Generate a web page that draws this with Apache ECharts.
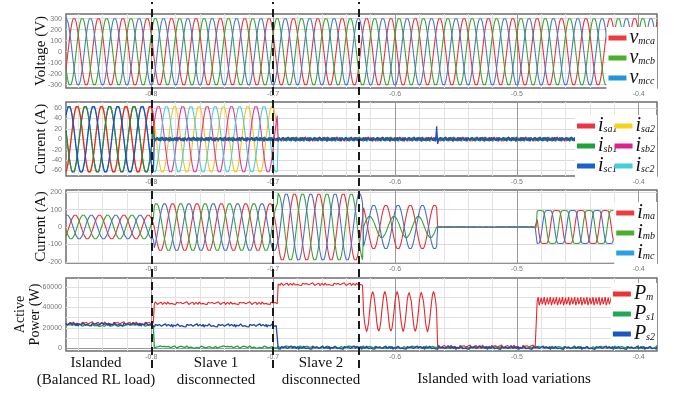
<!DOCTYPE html>
<html>
<head>
<meta charset="utf-8">
<script src="https://cdn.jsdelivr.net/npm/echarts@6/dist/echarts.min.js"></script>
<style>
html, body { margin: 0; padding: 0; background: #fff; }
#chart { width: 674px; height: 394px; }
</style>
</head>
<body>
<div id="chart"></div>
<script>
var chart = echarts.init(document.getElementById('chart'));

// time window (s), 24 samples per 50 Hz cycle
var tStart = -0.870, tEnd = -0.385;
var dt = 0.02 / 24;
// switching instants
var events = [-0.798, -0.6964, -0.626, -0.565, -0.4836, -0.420];

var majorTicks = [-0.8, -0.7, -0.6, -0.5, -0.4];
var minorTicks = [-0.86, -0.84, -0.82, -0.80, -0.78, -0.76, -0.74, -0.72, -0.70, -0.68, -0.66, -0.64,
                  -0.62, -0.60, -0.58, -0.56, -0.54, -0.52, -0.50, -0.48, -0.46, -0.44, -0.42, -0.40];

// one cycle shapes (from peak)
var sineShape = [1, 0.966, 0.866, 0.707, 0.5, 0.259, 0, -0.259, -0.5, -0.707, -0.866, -0.966,
                 -1, -0.966, -0.866, -0.707, -0.5, -0.259, 0, 0.259, 0.5, 0.707, 0.866, 0.966];
var trapShape = [1, 1, 1, 0.97, 0.8, 0.45, 0, -0.45, -0.8, -0.97, -1, -1,
                 -1, -1, -1, -0.97, -0.8, -0.45, 0, 0.45, 0.8, 0.97, 1, 1];
var jitter = [0.3, -0.6, 0.9, -0.2, -0.8, 0.5, 0.1, -0.4, 0.7, -0.9, 0.2, 0.6, -0.3, -0.7, 0.8, 0.0,
              -0.5, 0.4, -0.1, 0.9, -0.6, 0.3, -0.8, 0.6, -0.2, 0.1, -0.9, 0.5, 0.7, -0.4, 0.2];

// voltage
var vAmp = 310, vRef = -0.8634;
// slave currents: amplitude per segment
var isAmp1 = [65, 0, 0, 0, 0, 0, 0];
var isAmp2 = [65, 65, 0, 0, 0, 0, 0];
var isRef = -0.8611, isNoise = 4.5;
var spikeT = -0.5655, spikeVals = [25, -9];
// master currents per segment
var imAmpA = [70, 138, 195, 128, 0, 95];
var imAmpB = [70, 138, 195, 62, 0, 95];
var imAmpC = [70, 138, 195, 128, 0, 95];
var imShiftB = [-8, -8, -8, -8, 0, -8];
var imShiftC = [8, 8, 8, 12, 0, 8];
var imRef = [-0.8621, -0.8621, -0.8621, -0.6074, 0, -0.4672];
var imNoise = 2;
// power levels per segment (W)
var pmLevel = [24500, 44000, 62500, 0, 1800, 0];
var ps1Level = [22500, 1200, 1200, 1000, 900, 900, 900];
var ps2Level = [23300, 22300, 600, 600, 500, 500, 500];
var pmOsc = [55000, 52500, 46000, 36000, 26000, 19500, 16500, 19500, 26000, 36000, 46000, 52500];
var pmOscRef = -0.6184;
var pmRipple = [49500, 43000, 46000, 50000, 42000, 45500];

function segOf(t) { var s = 0; while (s < events.length && t >= events[s]) s++; return s; }
function idx(t, ref, shift, n) { var k = Math.round((t - ref) / dt) + shift; return ((k % n) + n) % n; }
function jit(i, off) { return jitter[(i + off) % jitter.length]; }

var vA = [], vB = [], vC = [];
var sa1 = [], sb1 = [], sc1 = [], sa2 = [], sb2 = [], sc2 = [];
var ma = [], mb = [], mc = [];
var pm = [], ps1 = [], ps2 = [];

for (var i = 0; tStart + i * dt <= tEnd + 1e-9; i++) {
    var t = +(tStart + i * dt).toFixed(6);
    var s = segOf(t);
    vA.push([t, vAmp * sineShape[idx(t, vRef, 0, 24)]]);
    vB.push([t, vAmp * sineShape[idx(t, vRef, -8, 24)]]);
    vC.push([t, vAmp * sineShape[idx(t, vRef, 8, 24)]]);

    // slave currents
    var a1 = isAmp1[s], a2 = isAmp2[s];
    sa1.push([t, a1 ? a1 * sineShape[idx(t, isRef, 0, 24)] : isNoise * jit(i, 0)]);
    sb1.push([t, a1 ? a1 * sineShape[idx(t, isRef, -8, 24)] : isNoise * jit(i, 9)]);
    var c1 = a1 ? a1 * sineShape[idx(t, isRef, 8, 24)] : isNoise * jit(i, 17);
    if (Math.abs(t - spikeT) < dt / 2) c1 = spikeVals[0];
    if (Math.abs(t - spikeT - dt) < dt / 2) c1 = spikeVals[1];
    sc1.push([t, c1]);
    sa2.push([t, a2 ? a2 * sineShape[idx(t, isRef, 0, 24)] : isNoise * jit(i, 5)]);
    sb2.push([t, a2 ? a2 * sineShape[idx(t, isRef, -8, 24)] : isNoise * jit(i, 12)]);
    sc2.push([t, a2 ? a2 * sineShape[idx(t, isRef, 8, 24)] : isNoise * jit(i, 22)]);

    // master currents
    if (s <= 3) {
        ma.push([t, imAmpA[s] * sineShape[idx(t, imRef[s], 0, 24)]]);
        mb.push([t, imAmpB[s] * sineShape[idx(t, imRef[s], imShiftB[s], 24)]]);
        mc.push([t, imAmpC[s] * sineShape[idx(t, imRef[s], imShiftC[s], 24)]]);
    } else if (s === 4) {
        ma.push([t, imNoise * jit(i, 3)]);
        mb.push([t, imNoise * jit(i, 14)]);
        mc.push([t, imNoise * jit(i, 25)]);
    } else if (s === 5) {
        ma.push([t, imAmpA[s] * trapShape[idx(t, imRef[s], 0, 24)]]);
        mb.push([t, imAmpB[s] * trapShape[idx(t, imRef[s], imShiftB[s], 24)]]);
        mc.push([t, imAmpC[s] * trapShape[idx(t, imRef[s], imShiftC[s], 24)]]);
    }

    // power
    var p;
    if (s === 3) p = pmOsc[idx(t, pmOscRef, 0, 12)] + 700 * jit(i, 7);
    else if (s === 5) p = pmRipple[i % pmRipple.length];
    else if (s < 6) p = pmLevel[s] + 1500 * jit(i, 7);
    if (s < 6) pm.push([t, p]);
    ps1.push([t, ps1Level[s] + 1200 * jit(i, 19)]);
    ps2.push([t, ps2Level[s] + 1800 * jit(i, 28)]);
}

function line(name, gi, color, legendColor, data, width) {
    return {
        name: name, type: 'line', xAxisIndex: gi * 2, yAxisIndex: gi, data: data,
        showSymbol: false, symbol: 'none', silent: true, z: 2,
        lineStyle: { color: color, width: width || 1.1 },
        itemStyle: { color: legendColor }
    };
}

var grids = [
    { left: 66, top: 14, width: 591, height: 74 },
    { left: 66, top: 102, width: 591, height: 74 },
    { left: 66, top: 190, width: 591, height: 73 },
    { left: 66, top: 278, width: 591, height: 73 },
    { left: 66, top: 2, width: 591, height: 366 }
];
grids.forEach(function (g, k) {
    g.show = k < 4;
    g.borderColor = '#6e6e6e';
    g.borderWidth = 1.5;
    g.outerBoundsMode = 'none';
    g.containLabel = false;
});

var xAxes = [];
for (var g = 0; g < 4; g++) {
    xAxes.push({
        type: 'value', gridIndex: g, min: tStart, max: tEnd, position: 'bottom',
        axisLine: { show: false }, axisLabel: { show: false },
        axisTick: { show: false, customValues: minorTicks },
        splitLine: { show: true, lineStyle: { color: '#e3e3e3', width: 1 } }
    });
    xAxes.push({
        type: 'value', gridIndex: g, min: tStart, max: tEnd, position: 'bottom',
        axisLine: { show: false },
        axisTick: { show: false, customValues: majorTicks },
        axisLabel: { customValues: majorTicks, fontSize: 7, color: '#777', margin: 3,
            formatter: function (v) { return v.toFixed(1); } },
        splitLine: { show: true, lineStyle: { color: '#9a9a9a', width: 1 } }
    });
}
xAxes.push({ type: 'value', gridIndex: 4, min: tStart, max: tEnd, show: false });

var nameStyle = { fontFamily: 'Liberation Serif', fontSize: 15, color: '#111' };
function yAxis(g, min, max, labels, splits, name, gap, splitColors) {
    return {
        type: 'value', gridIndex: g, min: min, max: max,
        name: name, nameLocation: 'middle', nameRotate: 90, nameGap: gap, nameTextStyle: nameStyle,
        nameMoveOverlap: false,
        axisLine: { show: false },
        axisTick: { show: false, customValues: splits },
        axisLabel: { customValues: labels, fontSize: 7, color: '#777', margin: 4,
            formatter: function (v) { return String(v); } },
        splitLine: { show: true, lineStyle: { color: splitColors || '#dadada', width: 1 } }
    };
}
var yAxes = [
    yAxis(0, -330, 343, [-300, -200, -100, 0, 100, 200, 300], [-300, -200, -100, 0, 100, 200, 300], 'Voltage (V)', 17.5),
    yAxis(1, -71, 72, [-60, -40, -20, 0, 20, 40, 60], [-60, -40, -20, 0, 20, 40, 60], 'Current (A)', 17.5),
    yAxis(2, -207, 213, [-200, -100, 0, 100, 200], [-200, -100, 0, 100, 200], 'Current (A)', 17.5),
    yAxis(3, -2600, 68600, [0, 20000, 40000, 60000], [0, 10000, 20000, 30000, 40000, 50000, 60000],
        'Active\nPower (W)', 23, ['#9a9a9a', '#e0e0e0', '#e0e0e0', '#e0e0e0', '#e0e0e0', '#e0e0e0', '#e0e0e0']),
    { type: 'value', gridIndex: 4, min: 0, max: 1, show: false }
];
yAxes[3].nameTextStyle = { fontFamily: 'Liberation Serif', fontSize: 14, color: '#111', lineHeight: 15 };

var rich = {
    m: { fontFamily: 'Liberation Serif', fontStyle: 'italic', fontSize: 20, lineHeight: 16, color: '#111' },
    s: { fontFamily: 'Liberation Serif', fontStyle: 'italic', fontSize: 10, lineHeight: 9, verticalAlign: 'bottom', color: '#111' }
};
function legend(names, pos) {
    var l = {
        data: names, orient: 'vertical', icon: 'rect', itemWidth: 18, itemHeight: 5, itemGap: 0,
        backgroundColor: '#fff', padding: [1, 2, 1, 2], selectedMode: false,
        textStyle: { rich: rich, padding: [0, 0, 0, -2] },
        formatter: function (n) { var p = n.split('_'); return '{m|' + p[0] + '}{s|' + p[1] + '}'; }
    };
    for (var k in pos) l[k] = pos[k];
    return l;
}
var legends = [
    legend(['v_mca', 'v_mcb', 'v_mcc'], { right: 17, top: 27 }),
    legend(['i_sa1', 'i_sb1', 'i_sc1'], { left: 575, top: 115 }),
    legend(['i_sa2', 'i_sb2', 'i_sc2'], { right: 17, top: 115 }),
    legend(['i_ma', 'i_mb', 'i_mc'], { right: 17, top: 202 }),
    legend(['P_m', 'P_s1', 'P_s2'], { right: 17, top: 283 })
];

var series = [
    line('v_mca', 0, '#e8333a', '#ee3b3b', vA),
    line('v_mcb', 0, '#3aa335', '#4caf2c', vB),
    line('v_mcc', 0, '#4a78c8', '#2196d8', vC),
    line('i_sa2', 1, '#f7c31a', '#f8d21a', sa2),
    line('i_sb2', 1, '#d93a9c', '#e0208c', sb2),
    line('i_sc2', 1, '#4ecbd4', '#3fd0dc', sc2),
    line('i_sa1', 1, '#e62a2a', '#ee3344', sa1, 1.3),
    line('i_sb1', 1, '#1f8c3b', '#22a03a', sb1, 1.3),
    line('i_sc1', 1, '#1c4fc1', '#1a5fd0', sc1, 1.3),
    line('i_ma', 2, '#e8333a', '#ee3b3b', ma),
    line('i_mb', 2, '#3aa335', '#4caf2c', mb),
    line('i_mc', 2, '#4a6fc6', '#2aa0e0', mc),
    line('P_s1', 3, '#1aa04a', '#22a855', ps1, 1.3),
    line('P_m', 3, '#e8262b', '#ee3333', pm),
    line('P_s2', 3, '#2148a8', '#1a56c4', ps2, 1.3),
    {
        type: 'line', xAxisIndex: 8, yAxisIndex: 4, data: [[tStart, -1]], symbol: 'none', silent: true, z: 10,
        markLine: {
            silent: true, symbol: ['none', 'none'], label: { show: false }, animation: false,
            lineStyle: { color: '#1a1a1a', width: 2, type: [8, 5] },
            data: events.slice(0, 3).map(function (e) { return { xAxis: e }; })
        }
    }
];

var labelFont = '15px "Liberation Serif"';
function caption(text, x, y) {
    return { type: 'text', x: x, y: y, silent: true,
        style: { text: text, font: labelFont, fill: '#111', align: 'center', verticalAlign: 'middle', lineHeight: 17 } };
}

chart.setOption({
    animation: false,
    grid: grids,
    xAxis: xAxes,
    yAxis: yAxes,
    legend: legends,
    series: series,
    graphic: [
        caption('Islanded\n(Balanced RL load)', 96, 372),
        caption('Slave 1\ndisconnected', 216, 372),
        caption('Slave 2\ndisconnected', 321, 372),
        caption('Islanded with load variations', 504, 379)
    ]
});
</script>
</body>
</html>
